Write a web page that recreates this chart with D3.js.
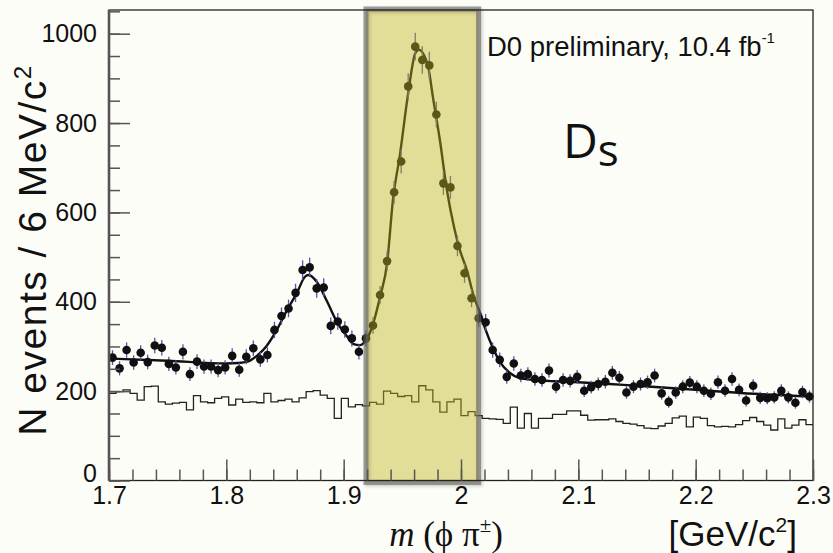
<!DOCTYPE html>
<html>
<head>
<meta charset="utf-8">
<script src="https://cdn.jsdelivr.net/npm/d3@7"></script>
<style>
  html, body { margin: 0; padding: 0; background: #fdfdf8; }
  svg { display: block; }
</style>
</head>
<body>
<svg id="chart" width="833" height="553"></svg>
<script>
'use strict';
// binning of the mass histogram (6 MeV bins from 1.7 GeV)
const BIN_START = 1.7;
const BIN_WIDTH = 0.006;

// events per bin, data points
const DATA_COUNTS = [
  275, 251, 292, 264, 286, 265, 302, 297, 261, 253,
  288, 238, 266, 255, 255, 247, 253, 279, 248, 277,
  296, 271, 281, 337, 368, 385, 420, 471, 477, 430,
  432, 346, 356, 338, 318, 288, 318, 347, 415, 491,
  645, 714, 882, 971, 941, 929, 819, 665, 656, 525,
  464, 408, 363, 354, 292, 270, 232, 262, 235, 238,
  227, 225, 246, 210, 225, 223, 232, 201, 209, 216,
  221, 241, 230, 197, 210, 216, 220, 235, 195, 176,
  197, 210, 219, 210, 201, 194, 220, 201, 227, 203,
  179, 212, 185, 184, 186, 201, 186, 174, 198, 188,
];

// open histogram underneath
const HIST_COUNTS = [
  195, 199, 203, 195, 180, 210, 211, 176, 171, 173,
  175, 158, 190, 176, 174, 184, 187, 169, 182, 175,
  176, 174, 195, 176, 179, 182, 176, 185, 199, 201,
  191, 184, 139, 184, 165, 170, 167, 175, 171, 200,
  195, 188, 190, 176, 212, 203, 176, 153, 176, 182,
  145, 154, 145, 139, 138, 137, 128, 164, 117, 150,
  117, 139, 139, 148, 148, 156, 156, 146, 135, 136,
  136, 138, 132, 128, 126, 123, 117, 116, 122, 128,
  140, 144, 120, 142, 139, 123, 120, 121, 120, 125,
  134, 141, 132, 124, 113, 138, 117, 124, 136, 125,
];

// fit curve
const FIT_MASS = [
  1.700, 1.750, 1.800, 1.810, 1.818, 1.826, 1.834, 1.843, 1.851, 1.860,
  1.867, 1.870, 1.877, 1.886, 1.894, 1.903, 1.908, 1.914, 1.920, 1.925,
  1.931, 1.937, 1.942, 1.948, 1.955, 1.961, 1.964, 1.972, 1.976, 1.982,
  1.988, 1.994, 1.999, 2.005, 2.011, 2.017, 2.021, 2.028, 2.033, 2.042,
  2.050, 2.062, 2.080, 2.100, 2.150, 2.200, 2.250, 2.300,
];
const FIT_COUNTS = [
  273, 268, 262, 263, 266, 279, 300, 337, 378, 419,
  456, 460, 445, 400, 356, 322, 306, 303, 318, 350,
  411, 486, 628, 730, 867, 956, 964, 926, 859, 762,
  650, 568, 516, 471, 411, 370, 337, 292, 266, 240,
  229, 225, 222, 220, 212, 203, 194, 188,
];

const X_DOMAIN = [1.7, 2.3];
const Y_DOMAIN = [0, 1053];
const X_TICKS = [1.7, 1.8, 1.9, 2.0, 2.1, 2.2, 2.3];
const X_TICK_LABELS = ['1.7', '1.8', '1.9', '2', '2.1', '2.2', '2.3'];
const Y_TICKS = [0, 200, 400, 600, 800, 1000];
const Y_TICK_LABELS = ['0', '200', '400', '600', '800', '1000'];
const SIGNAL_WINDOW = [1.919, 2.015];

const margin = { top: 10, right: 20, bottom: 72, left: 109 };
const W = 833, H = 553;

drawChart();

function drawChart() {
  const svg = d3.select('#chart');

  const x = d3.scaleLinear().domain(X_DOMAIN).range([margin.left, W - margin.right]);
  const y = d3.scaleLinear().domain(Y_DOMAIN).range([H - margin.bottom - 0.5, margin.top]);

  const defs = svg.append('defs');
  defs.append('filter').attr('id', 'shadow')
    .attr('x', '-20%').attr('y', '-5%').attr('width', '140%').attr('height', '110%')
    .append('feDropShadow')
    .attr('dx', 1.5).attr('dy', 1.5).attr('stdDeviation', 1.5)
    .attr('flood-color', '#000').attr('flood-opacity', 0.3);

  // histogram (step line over bin edges)
  const histPts = HIST_COUNTS.map((c, i) => [BIN_START + i * BIN_WIDTH, c]);
  histPts.push([BIN_START + HIST_COUNTS.length * BIN_WIDTH, HIST_COUNTS[HIST_COUNTS.length - 1]]);
  svg.append('path')
    .datum(histPts)
    .attr('fill', 'none')
    .attr('stroke', '#222')
    .attr('stroke-width', 1.3)
    .attr('d', d3.line().x((d) => x(d[0])).y((d) => y(d[1])).curve(d3.curveStepAfter));

  // fit curve
  const fit = FIT_MASS.map((m, i) => [m, FIT_COUNTS[i]]);
  svg.append('path')
    .datum(fit)
    .attr('fill', 'none')
    .attr('stroke', '#111')
    .attr('stroke-width', 2.4)
    .attr('d', d3.line().x((d) => x(d[0])).y((d) => y(d[1])).curve(d3.curveMonotoneX));

  // data points with sqrt(N) error bars
  const pts = DATA_COUNTS.map((c, i) => ({ m: BIN_START + (i + 0.5) * BIN_WIDTH, n: c }));
  svg.append('g')
    .selectAll('line')
    .data(pts)
    .enter()
    .append('line')
    .attr('x1', (d) => x(d.m))
    .attr('x2', (d) => x(d.m))
    .attr('y1', (d) => y(d.n - Math.sqrt(d.n)))
    .attr('y2', (d) => y(d.n + Math.sqrt(d.n)))
    .attr('stroke', '#5252b0')
    .attr('stroke-width', 1.3);
  svg.append('g')
    .selectAll('circle')
    .data(pts)
    .enter()
    .append('circle')
    .attr('cx', (d) => x(d.m))
    .attr('cy', (d) => y(d.n))
    .attr('r', 4.3)
    .attr('fill', '#101010');

  // highlighted signal window (translucent overlay, shadow only on the border)
  const bx0 = x(SIGNAL_WINDOW[0]), bx1 = x(SIGNAL_WINDOW[1]);
  const by0 = y.range()[1] - 1, by1 = y.range()[0] + 2;
  svg.append('rect')
    .attr('x', bx0).attr('y', by0)
    .attr('width', bx1 - bx0).attr('height', by1 - by0)
    .attr('fill', '#bfb51a')
    .attr('fill-opacity', 0.43);
  svg.append('rect')
    .attr('x', bx0).attr('y', by0)
    .attr('width', bx1 - bx0).attr('height', by1 - by0)
    .attr('fill', 'none')
    .attr('stroke', '#5e5e5e')
    .attr('stroke-opacity', 0.6)
    .attr('stroke-width', 5)
    .attr('filter', 'url(#shadow)');

  // frame
  const x0 = x.range()[0], x1 = x.range()[1];
  const y0 = y.range()[0], y1 = y.range()[1];
  svg.append('rect')
    .attr('x', x0).attr('y', y1).attr('width', x1 - x0).attr('height', y0 - y1)
    .attr('fill', 'none').attr('stroke', '#222').attr('stroke-width', 1.3);

  // axes: minor + major ticks pointing inward
  const styleAxis = (g) => {
    g.select('.domain').remove();
    g.selectAll('.tick line').attr('stroke', '#555').attr('stroke-width', 1.5);
    g.selectAll('.tick text')
      .attr('fill', '#111')
      .style('font-family', '"Liberation Sans", Arial, sans-serif')
      .style('font-size', '25px');
  };

  svg.append('g')
    .attr('transform', `translate(0,${y0})`)
    .call(d3.axisBottom(x).tickValues(x.ticks(30)).tickSize(-11).tickFormat(''))
    .call(styleAxis);
  svg.append('g')
    .attr('transform', `translate(0,${y0})`)
    .call(d3.axisBottom(x).tickValues(X_TICKS).tickSize(-21).tickPadding(6)
      .tickFormat((d, i) => X_TICK_LABELS[i]))
    .call(styleAxis);

  svg.append('g')
    .attr('transform', `translate(${x0},0)`)
    .call(d3.axisLeft(y).tickValues(y.ticks(21)).tickSize(-11).tickFormat(''))
    .call(styleAxis);
  svg.append('g')
    .attr('transform', `translate(${x0},0)`)
    .call(d3.axisLeft(y).tickValues(Y_TICKS).tickSize(-21).tickPadding(12)
      .tickFormat((d, i) => Y_TICK_LABELS[i]))
    .call(styleAxis)
    .call((g) => g.selectAll('.tick:first-of-type text').attr('dy', '0.05em'));

  svg.append('line')
    .attr('x1', x0).attr('x2', x0).attr('y1', y1).attr('y2', y0)
    .attr('stroke', '#555').attr('stroke-width', 2.6);

  // axis titles
  const yTitle = svg.append('text')
    .attr('transform', `translate(46,250) rotate(-90)`)
    .attr('text-anchor', 'middle')
    .style('font-family', '"Liberation Sans", Arial, sans-serif')
    .style('font-size', '39px')
    .style('letter-spacing', '1.5px')
    .attr('fill', '#111');
  yTitle.append('tspan').text('N events / 6 MeV/c');
  yTitle.append('tspan').attr('dy', -15).style('font-size', '24px').text('2');

  const xTitle = svg.append('text')
    .attr('x', 446).attr('y', 546)
    .attr('text-anchor', 'middle')
    .style('font-family', '"Liberation Serif", "Times New Roman", serif')
    .style('font-size', '35px')
    .attr('fill', '#111');
  xTitle.append('tspan').style('font-style', 'italic').text('m');
  xTitle.append('tspan').text(' (\u03d5 \u03c0');
  xTitle.append('tspan').attr('dy', -14).style('font-size', '21px').text('\u00b1');
  xTitle.append('tspan').attr('dy', 14).text(')');

  const unit = svg.append('text')
    .attr('x', 797).attr('y', 546)
    .attr('text-anchor', 'end')
    .style('font-family', '"Liberation Sans", Arial, sans-serif')
    .style('font-size', '35px')
    .attr('fill', '#111');
  unit.append('tspan').text('[GeV/c');
  unit.append('tspan').attr('dy', -14).style('font-size', '21px').text('2');
  unit.append('tspan').attr('dy', 14).text(']');

  // labels inside the frame
  const lumi = svg.append('text')
    .attr('x', 487).attr('y', 56)
    .style('font-family', '"Liberation Sans", Arial, sans-serif')
    .style('font-size', '27.5px')
    .attr('fill', '#111');
  lumi.append('tspan').text('D0 preliminary, 10.4 fb');
  lumi.append('tspan').attr('dy', -13).style('font-size', '15px').text('-1');

  const ds = svg.append('text')
    .attr('x', 563).attr('y', 158)
    .style('font-family', '"Open Sans", sans-serif')
    .style('font-size', '48px')
    .attr('fill', '#111');
  ds.append('tspan').text('D');
  ds.append('tspan').attr('dy', 8).style('font-size', '44px').text('s');
}
</script>
</body>
</html>
